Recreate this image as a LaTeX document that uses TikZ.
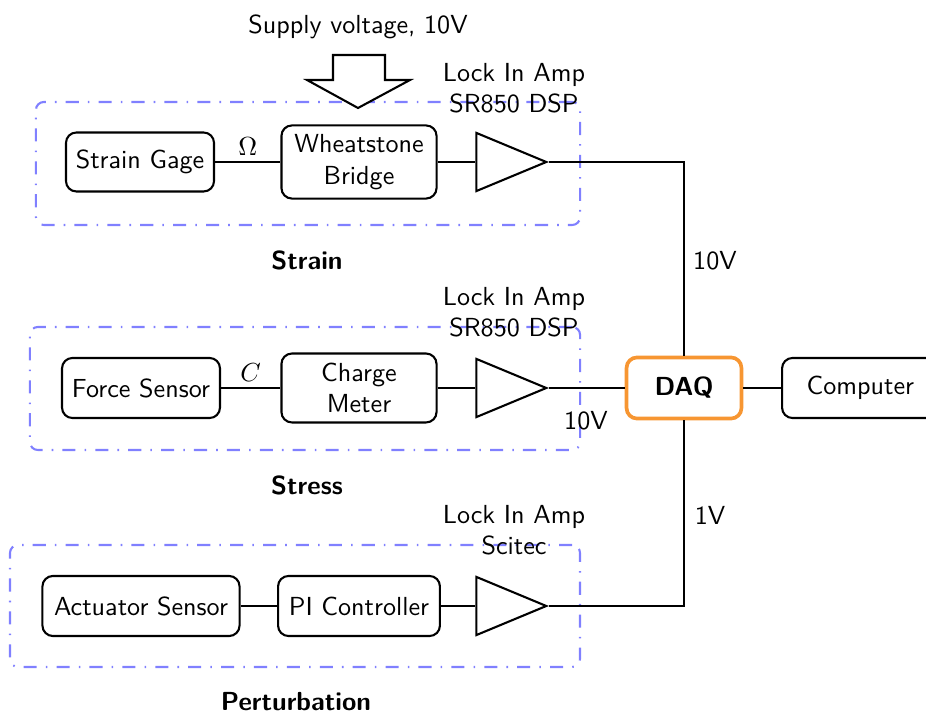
\documentclass[tikz,border=0pt]{standalone}
\usetikzlibrary{shapes.geometric}
\definecolor{grpblue}{RGB}{128,128,255}
\definecolor{daqorange}{RGB}{247,150,50}
\tikzset{
  blk/.style={draw, thick, rounded corners=4pt, align=center, inner sep=2pt},
  grp/.style={draw=grpblue, thick, rounded corners=3pt, dash pattern=on 5pt off 3.5pt on 0.6pt off 3.5pt},
  amp/.style={draw, thick, isosceles triangle, isosceles triangle stretches, shape border rotate=0, minimum width=22.3pt, minimum height=26.8pt, inner sep=0pt, anchor=apex},
  wire/.style={thick},
  lbl/.style={align=center, inner sep=1pt},
  wlbl/.style={above=1pt, inner sep=1pt},
  ttl/.style={font=\sffamily\bfseries, inner sep=1pt}
}
\begin{document}
\begin{tikzpicture}[x=0.383pt, y=-0.383pt, font=\sffamily]
\useasboundingbox (0,0) rectangle (926,718);
% groups
\node[grp, minimum width=208.4pt, minimum height=47.1pt] (g1) at (308,163.5) {};
\node[grp, minimum width=210.7pt, minimum height=47.1pt] (g2) at (305,388.5) {};
\node[grp, minimum width=218.3pt, minimum height=46.7pt] (g3) at (295,606) {};
% row 1
\node[blk, minimum width=56.7pt, minimum height=22.6pt] (sg) at (140,162) {Strain Gage};
\node[blk, minimum width=59.4pt, minimum height=28pt] (wb) at (359,162) {Wheatstone\\Bridge};
\node[amp] (a1) at (549,162) {};
% row 2
\node[blk, minimum width=60.5pt, minimum height=23pt] (fs) at (141,388) {Force Sensor};
\node[blk, minimum width=59.4pt, minimum height=26.4pt] (cm) at (359,388) {Charge\\Meter};
\node[amp] (a2) at (549,388) {};
% row 3
\node[blk, minimum width=75.5pt, minimum height=23pt] (as) at (141,606) {Actuator Sensor};
\node[blk, minimum width=62pt, minimum height=23pt] (pi) at (359,606) {PI Controller};
\node[amp] (a3) at (549,606) {};
% DAQ and computer
\node[blk, draw=daqorange, line width=1.4pt, minimum width=44pt, minimum height=23.4pt, font=\sffamily\bfseries] (daq) at (684,388) {DAQ};
\node[blk, minimum width=60pt, minimum height=23pt, anchor=west] (pc) at (781,388) {Computer};
% corner coordinates
\coordinate (c1) at (daq.north |- a1.apex);
\coordinate (c3) at (daq.south |- a3.apex);
% wires
\draw[wire] (sg) -- node[wlbl] {$\Omega$} (wb);
\draw[wire] (wb) -- (a1.lower side);
\draw[wire] (fs) -- node[wlbl] {$C$} (cm);
\draw[wire] (cm) -- (a2.lower side);
\draw[wire] (as) -- (pi);
\draw[wire] (pi) -- (a3.lower side);
\draw[wire] (a1.apex) -- (c1) -- (daq.north);
\draw[wire] (a2.apex) -- (daq.west);
\draw[wire] (a3.apex) -- (c3) -- (daq.south);
\draw[wire] (daq) -- (pc);
% supply arrow
\coordinate (sup) at (358,108);
\draw[thick, fill=white] (333,55) -- (385,55) -- (385,80) -- (410,80) -- (sup) -- (307,80) -- (333,80) -- cycle;
\node[lbl] (supt) at (358,27) {Supply voltage, 10V};
% labels
\node[lbl] (l1) at (514,88) {Lock In Amp\\SR850 DSP};
\node[lbl] (l2) at (514,312) {Lock In Amp\\SR850 DSP};
\node[lbl] (l3) at (514,530) {Lock In Amp\\Scitec};
\node[lbl] (v1) at (715,261) {10V};
\node[lbl] (v2) at (586,421) {10V};
\node[lbl] (v3) at (710,515) {1V};
\node[ttl] (t1) at (307,260) {Strain};
\node[ttl] (t2) at (307,485) {Stress};
\node[ttl] (t3) at (296,702) {Perturbation};
\end{tikzpicture}
\end{document}
